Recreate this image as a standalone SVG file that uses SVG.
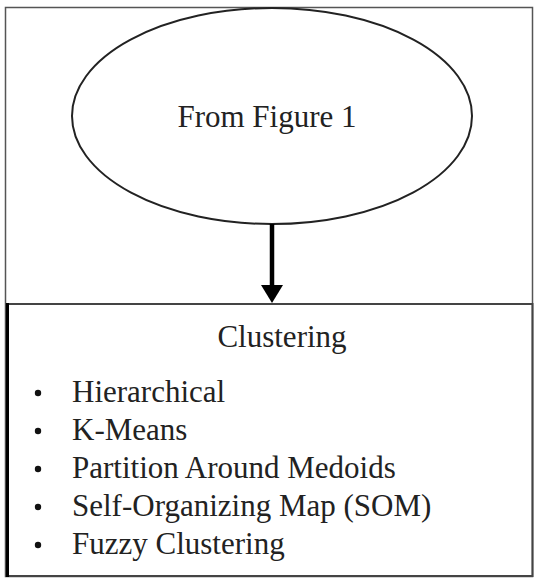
<svg xmlns="http://www.w3.org/2000/svg" width="534" height="580" viewBox="0 0 534 580">
<style>
text{font-family:"Liberation Serif","Times New Roman",serif;fill:#222;font-size:31px}
.frame{fill:none;stroke:#555;stroke-width:1.5}
.dot{fill:#111}
</style>
<rect x="0" y="0" width="534" height="580" fill="#fff"/>
<rect class="frame" x="5.5" y="7.5" width="527" height="569"/>
<g id="ellipse-node">
<ellipse cx="272" cy="116" rx="200" ry="108" fill="#fff" stroke="#222" stroke-width="2"/>
<text x="267" y="127" text-anchor="middle">From Figure 1</text>
</g>
<g id="connectors">
<line x1="272" y1="224" x2="272" y2="288" stroke="#000" stroke-width="4.5"/>
<polygon points="261,285 283,285 272,303" fill="#000"/>
</g>
<g id="clustering-node">
<rect x="6.5" y="304" width="526" height="272" fill="none" stroke="#444" stroke-width="2"/>
<line x1="7.5" y1="303" x2="7.5" y2="577" stroke="#000" stroke-width="3"/>
<text x="282" y="347" text-anchor="middle">Clustering</text>
<circle class="dot" cx="38" cy="393" r="3.2"/><text x="72" y="402">Hierarchical</text>
<circle class="dot" cx="38" cy="431" r="3.2"/><text x="72" y="440">K-Means</text>
<circle class="dot" cx="38" cy="469" r="3.2"/><text x="72" y="478">Partition Around Medoids</text>
<circle class="dot" cx="38" cy="507" r="3.2"/><text x="72" y="516">Self-Organizing Map (SOM)</text>
<circle class="dot" cx="38" cy="545" r="3.2"/><text x="72" y="554">Fuzzy Clustering</text>
</g>
</svg>
